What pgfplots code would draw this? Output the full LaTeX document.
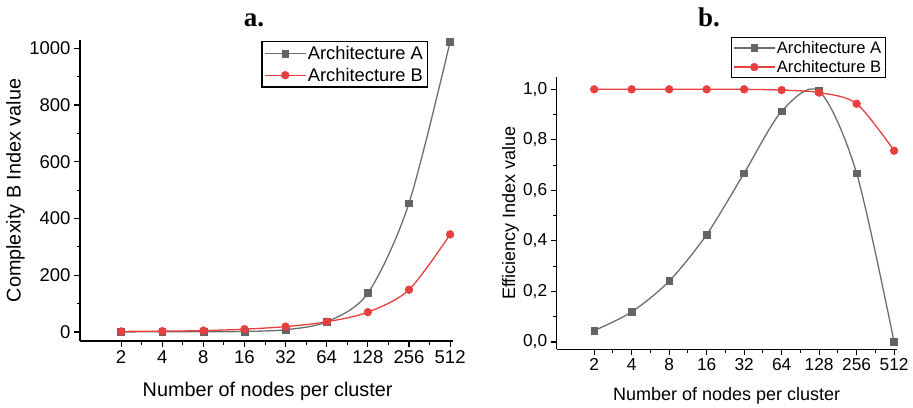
\documentclass[border=0pt]{standalone}
\usepackage{fontspec}
\setmainfont{Liberation Sans}
\newfontfamily\seriffont{Liberation Serif}
\usepackage{pgfplots}
\pgfplotsset{compat=1.18}
\definecolor{markA}{RGB}{100,100,100}
\definecolor{lineA}{RGB}{110,110,110}
\definecolor{redB}{RGB}{232,62,62}

\pgfplotsset{
  common/.style={
    scale only axis,
    axis x line*=bottom, axis y line*=left,
    axis line style={line width=1.1pt, -, black},
    tick align=outside,
    major tick length=6pt, minor tick length=3.5pt,
    every tick/.style={line width=1.1pt, black},
    xmin=0, xmax=9.07,
    xtick={1,...,9},
    xticklabels={2,4,8,16,32,64,128,256,512},
    minor x tick num=1, minor y tick num=1,
    /pgf/number format/assume math mode=true,
    /pgf/number format/1000 sep={},
    legend cell align=left,
    legend image code/.code={\draw[mark repeat=2,mark phase=2] plot coordinates {(0pt,0pt)(20pt,0pt)(40pt,0pt)};},
    clip=false,
  },
  seriesA/.style={lineA, line width=1.3pt, smooth, tension=0.5, mark=square*, mark size=3.4pt, mark options={fill=markA, draw=markA, solid, line width=0.5pt}},
  seriesB/.style={redB, line width=1.3pt, smooth, tension=0.5, mark=*, mark size=3.9pt, mark options={fill=redB, draw=redB, solid, line width=0.5pt}},
}

\begin{document}
\begin{tikzpicture}
\useasboundingbox (0pt,0pt) rectangle (913pt,-407pt);

\node[font=\seriffont\bfseries\fontsize{27}{30}\selectfont, anchor=base] at (254pt,-26.5pt) {a.};
\node[font=\seriffont\bfseries\fontsize{27}{30}\selectfont, anchor=base] at (709pt,-26pt) {b.};

\begin{axis}[common,
  at={(80pt,-341pt)}, anchor=south west,
  width=373pt, height=301pt,
  ymin=-31.7, ymax=1029,
  ytick={0,200,...,1000},
  tick label style={font=\fontsize{18.5}{20}\selectfont},
  xlabel={Number of nodes per cluster},
  ylabel={Complexity B Index value},
  xlabel style={font=\fontsize{19.8}{22}\selectfont, at={(axis description cs:0.503,-0.183)}, anchor=base},
  ylabel style={font=\fontsize{19.8}{22}\selectfont, at={(axis description cs:-0.173,0.5)}, anchor=center, rotate=0},
  legend style={at={(rel axis cs:0.933,0.997)}, anchor=north east, draw=black, line width=1.3pt, fill=white,
    font=\fontsize{18.3}{20}\selectfont, inner sep=2.5pt, row sep=3pt},
]
\addplot[seriesA] coordinates {(1,0.5) (2,0.7) (3,1) (4,2) (5,8) (6,36) (7,137) (8,454) (9,1023)};
\addlegendentry{Architecture A}
\addplot[seriesB] coordinates {(1,2) (2,3) (3,5) (4,10) (5,19) (6,36) (7,70) (8,149) (9,344)};
\addlegendentry{Architecture B}
\end{axis}

\begin{axis}[common,
  at={(556.7pt,-349.3pt)}, anchor=south west,
  width=340pt, height=272.6pt,
  ymin=-0.029, ymax=1.05,
  ytick={0,0.2,...,1.0},
  yticklabel style={/pgf/number format/.cd, fixed, fixed zerofill, precision=1, use comma},
  tick label style={font=\fontsize{17.3}{19}\selectfont},
  xlabel={Number of nodes per cluster},
  ylabel={Efficiency Index value},
  xlabel style={font=\fontsize{18}{20}\selectfont, at={(axis description cs:0.5,-0.186)}, anchor=base},
  ylabel style={font=\fontsize{18}{20}\selectfont, at={(axis description cs:-0.136,0.5)}, anchor=center, rotate=0},
  legend style={at={(rel axis cs:0.968,1.147)}, anchor=north east, draw=black, line width=1.3pt, fill=white,
    font=\fontsize{16.6}{18}\selectfont, inner sep=2pt, row sep=1.5pt},
]
\addplot[seriesA] coordinates {(1,0.045) (2,0.119) (3,0.241) (4,0.425) (5,0.668) (6,0.913) (7,0.993) (8,0.668) (9,0.0)};
\addlegendentry{Architecture A}
\addplot[seriesB] coordinates {(1,1) (2,1) (3,1) (4,1) (5,1) (6,0.997) (7,0.987) (8,0.943) (9,0.757)};
\addlegendentry{Architecture B}
\end{axis}
\end{tikzpicture}
\end{document}
